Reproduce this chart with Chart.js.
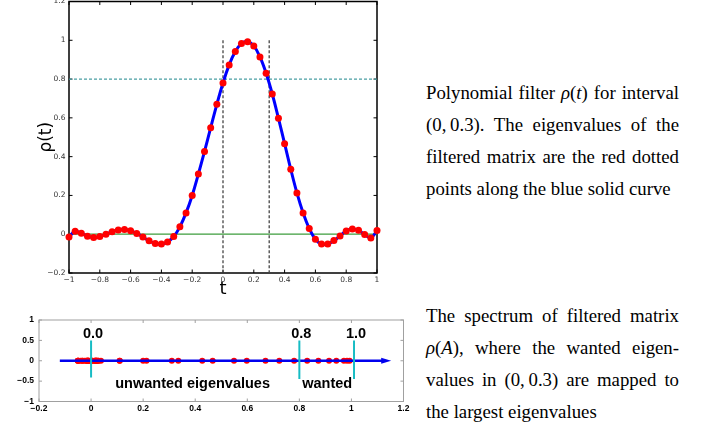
<!DOCTYPE html>
<html lang="en">
  <head>
    <meta charset="utf-8" />
    <title>Polynomial filter</title>
    <style>
      * {
        margin: 0;
        padding: 0;
      }
      body {
        width: 718px;
        height: 427px;
        background: white;
        position: relative;
        overflow: hidden;
      }
      #filterChart {
        position: absolute;
        left: 0;
        top: -10px;
      }
      #spectrumChart {
        position: absolute;
        left: 0;
        top: 300px;
      }
      .caption {
        position: absolute;
        left: 426px;
        width: 253px;
        font-family: "Liberation Serif", serif;
        font-size: 18.8px;
        line-height: 32px;
        color: #000;
      }
      .caption div {
        white-space: nowrap;
        text-align: justify;
        text-align-last: justify;
      }
      .caption div.last {
        text-align: left;
        text-align-last: left;
      }
      .m {
        font-style: italic;
      }
    </style>
  </head>
  <body>
    <canvas id="filterChart" width="400" height="310"></canvas>
    <canvas id="spectrumChart" width="420" height="127"></canvas>

    <div class="caption" style="top: 77px">
      <div>Polynomial filter <span class="m">ρ</span>(<span class="m">t</span>) for interval</div>
      <div>(0,&thinsp;0.3). The eigenvalues of the</div>
      <div>filtered matrix are the red dotted</div>
      <div class="last">points along the blue solid curve</div>
    </div>
    <div class="caption" style="top: 300px">
      <div>The spectrum of filtered matrix</div>
      <div><span class="m">ρ</span>(<span class="m">A</span>), where the wanted eigen-</div>
      <div>values in (0,&thinsp;0.3) are mapped to</div>
      <div class="last">the largest eigenvalues</div>
    </div>

    <script src="https://cdn.jsdelivr.net/npm/chart.js"></script>

    <script>
      // sample points t and filter values rho(t) (red dots on the blue curve)
      const tValues = [
        -1, -0.96, -0.92, -0.88, -0.84, -0.8, -0.76, -0.72, -0.68, -0.64,
        -0.6, -0.56, -0.52, -0.48, -0.44, -0.4, -0.36, -0.32, -0.28, -0.24,
        -0.2, -0.16, -0.12, -0.08, -0.04, 0, 0.04, 0.08, 0.12, 0.16, 0.2,
        0.24, 0.28, 0.32, 0.36, 0.4, 0.44, 0.48, 0.52, 0.56, 0.6, 0.64, 0.68,
        0.72, 0.76, 0.8, 0.84, 0.88, 0.92, 0.96, 1,
      ];
      const rhoValues = [
        -0.014, 0.015, 0.005, -0.01, -0.017, -0.012, 0, 0.013, 0.022, 0.024,
        0.018, 0.004, -0.014, -0.034, -0.048, -0.051, -0.04, -0.012, 0.038,
        0.11, 0.2, 0.31, 0.427, 0.549, 0.67, 0.78, 0.873, 0.942, 0.983, 0.993,
        0.971, 0.914, 0.83, 0.723, 0.598, 0.467, 0.335, 0.213, 0.11, 0.029,
        -0.026, -0.051, -0.05, -0.033, -0.009, 0.017, 0.027, 0.02, -0.002,
        -0.019, 0.019,
      ];
      const passband = [0, 0.3];
      const threshold = 0.8;

      const filterXTicks = [-1, -0.8, -0.6, -0.4, -0.2, 0, 0.2, 0.4, 0.6, 0.8, 1];
      const filterYTicks = [-0.2, 0, 0.2, 0.4, 0.6, 0.8, 1, 1.2];
      const spectrumXTicks = [-0.2, 0, 0.2, 0.4, 0.6, 0.8, 1, 1.2];
      const spectrumYTicks = [-1, -0.5, 0, 0.5, 1];

      // bottom panel annotations
      const arrowSpan = [-0.12, 1.145];
      const markerValues = [0, 0.8, 1.01];
      const markerLabels = ["0.0", "0.8", "1.0"];
      const markerBottoms = [-0.41, -0.45, -0.45];
      const regionLabels = ["unwanted eigenvalues", "wanted"];
      const regionCenters = [0.39, 0.907];

      const fmt = (v) => (v < 0 ? "\u2212" : "") + Math.abs(v);
      const setTicks = (list) => (s) => {
        s.ticks = list.map((v) => ({ value: v }));
      };

      // box around the plot area with inward tick marks on all four sides
      const axisBox = {
        id: "axisBox",
        beforeDatasetsDraw(chart, args, opts) {
          const {
            ctx,
            chartArea: { left, right, top, bottom },
            scales: { x, y },
          } = chart;
          ctx.save();
          ctx.strokeStyle = opts.color;
          ctx.lineWidth = opts.tickWidth;
          ctx.beginPath();
          x.ticks.forEach((t) => {
            const px = x.getPixelForValue(t.value);
            ctx.moveTo(px, bottom);
            ctx.lineTo(px, bottom - opts.tickLength);
            ctx.moveTo(px, top);
            ctx.lineTo(px, top + opts.tickLength);
          });
          y.ticks.forEach((t) => {
            const py = y.getPixelForValue(t.value);
            ctx.moveTo(left, py);
            ctx.lineTo(left + opts.tickLength, py);
            ctx.moveTo(right, py);
            ctx.lineTo(right - opts.tickLength, py);
          });
          ctx.stroke();
          ctx.lineWidth = opts.boxWidth;
          ctx.strokeRect(left, top, right - left, bottom - top);
          ctx.restore();
        },
      };

      const points = tValues.map((t, i) => ({ x: t, y: rhoValues[i] }));

      new Chart(document.getElementById("filterChart"), {
        type: "line",
        data: {
          datasets: [
            {
              data: points,
              showLine: false,
              pointRadius: 3.5,
              pointBackgroundColor: "#ff0000",
              pointBorderWidth: 0,
              clip: false,
              order: 0,
            },
            {
              data: points,
              borderColor: "#0000ff",
              borderWidth: 3,
              tension: 0.4,
              pointRadius: 0,
              order: 1,
            },
            {
              data: [
                { x: -1, y: 0 },
                { x: 1, y: 0 },
              ],
              borderColor: "#3c9d3c",
              borderWidth: 1.2,
              pointRadius: 0,
              order: 2,
            },
            {
              data: [
                { x: -1, y: threshold },
                { x: 1, y: threshold },
              ],
              borderColor: "#4a9ea3",
              borderWidth: 1.2,
              borderDash: [3, 2],
              pointRadius: 0,
              order: 3,
            },
            ...passband.map((p) => ({
              data: [
                { x: p, y: 1 },
                { x: p, y: -0.2 },
              ],
              borderColor: "#444",
              borderWidth: 1.3,
              borderDash: [3, 2],
              pointRadius: 0,
              order: 4,
            })),
          ],
        },
        options: {
          responsive: false,
          animation: false,
          devicePixelRatio: 1,
          layout: { padding: { top: 11.5, right: 23, bottom: 0, left: 0 } },
          plugins: {
            legend: { display: false },
            tooltip: { enabled: false },
            axisBox: { color: "#000", tickWidth: 1, tickLength: 3.5, boxWidth: 1.5 },
          },
          scales: {
            x: {
              type: "linear",
              min: -1,
              max: 1,
              afterBuildTicks: setTicks(filterXTicks),
              afterFit: (s) => {
                s.height = 27;
              },
              grid: { display: false, drawTicks: false },
              border: { display: false },
              ticks: {
                font: { family: "DejaVu Sans", size: 7.5 },
                color: "#333",
                padding: 3,
                maxRotation: 0,
                autoSkip: false,
                callback: fmt,
              },
              title: {
                display: true,
                text: "t",
                color: "#000",
                font: { family: "DejaVu Sans", size: 18 },
                padding: 0,
              },
            },
            y: {
              type: "linear",
              min: -0.2,
              max: 1.2,
              afterBuildTicks: setTicks(filterYTicks),
              afterFit: (s) => {
                s.width = 69;
              },
              grid: { display: false, drawTicks: false },
              border: { display: false },
              ticks: {
                font: { family: "DejaVu Sans", size: 7.5 },
                color: "#333",
                padding: 3.5,
                autoSkip: false,
                callback: fmt,
              },
              title: {
                display: true,
                text: "ρ(t)",
                color: "#000",
                font: { family: "DejaVu Sans", size: 17 },
                padding: { top: 36, bottom: 0 },
              },
            },
          },
        },
        plugins: [axisBox],
      });

      // arrow head and text labels for the spectrum panel
      const spectrumNotes = {
        id: "spectrumNotes",
        afterDatasetsDraw(chart) {
          const {
            ctx,
            scales: { x, y },
          } = chart;
          ctx.save();
          const tipX = x.getPixelForValue(arrowSpan[1]) + 2;
          const y0 = y.getPixelForValue(0);
          ctx.fillStyle = "#0000ee";
          ctx.beginPath();
          ctx.moveTo(tipX, y0);
          ctx.lineTo(tipX - 10, y0 - 3);
          ctx.lineTo(tipX - 10, y0 + 3);
          ctx.closePath();
          ctx.fill();

          ctx.fillStyle = "#000";
          ctx.textAlign = "center";
          ctx.textBaseline = "middle";
          ctx.font = "bold 14.5px 'Liberation Sans'";
          markerLabels.forEach((lab, i) => {
            ctx.fillText(lab, x.getPixelForValue(markerValues[i]) + 2, y.getPixelForValue(0.66));
          });
          regionLabels.forEach((lab, i) => {
            ctx.fillText(lab, x.getPixelForValue(regionCenters[i]), y.getPixelForValue(-0.57));
          });
          ctx.restore();
        },
      };

      new Chart(document.getElementById("spectrumChart"), {
        type: "line",
        data: {
          datasets: [
            ...markerValues.map((m, i) => ({
              data: [
                { x: m, y: 0.5 },
                { x: m, y: markerBottoms[i] },
              ],
              borderColor: "#17bcc4",
              borderWidth: 2,
              pointRadius: 0,
              order: -1,
            })),
            {
              data: [
                { x: arrowSpan[0], y: 0 },
                { x: arrowSpan[1] - 0.02, y: 0 },
              ],
              borderColor: "#0000ee",
              borderWidth: 2.5,
              pointRadius: 0,
              order: 0,
            },
            {
              data: rhoValues.map((r) => ({ x: r, y: 0 })),
              showLine: false,
              pointRadius: 3,
              pointBackgroundColor: "#ff0000",
              pointBorderWidth: 0,
              order: 1,
            },
          ],
        },
        options: {
          responsive: false,
          animation: false,
          devicePixelRatio: 1,
          layout: { padding: { top: 20, right: 16.5, bottom: 0, left: 0 } },
          plugins: {
            legend: { display: false },
            tooltip: { enabled: false },
            axisBox: { color: "#a0a0a0", tickWidth: 1, tickLength: 3, boxWidth: 1 },
          },
          scales: {
            x: {
              type: "linear",
              min: -0.2,
              max: 1.2,
              afterBuildTicks: setTicks(spectrumXTicks),
              afterFit: (s) => {
                s.height = 25.5;
              },
              grid: { display: false, drawTicks: false },
              border: { display: false },
              ticks: {
                font: { family: "Liberation Sans", size: 8.5, weight: "bold" },
                color: "#000",
                padding: 2,
                maxRotation: 0,
                autoSkip: false,
                callback: fmt,
              },
            },
            y: {
              type: "linear",
              min: -1,
              max: 1,
              afterBuildTicks: setTicks(spectrumYTicks),
              afterFit: (s) => {
                s.width = 39;
              },
              grid: { display: false, drawTicks: false },
              border: { display: false },
              ticks: {
                font: { family: "Liberation Sans", size: 8.5, weight: "bold" },
                color: "#000",
                padding: 5,
                autoSkip: false,
                callback: fmt,
              },
            },
          },
        },
        plugins: [axisBox, spectrumNotes],
      });
    </script>
  </body>
</html>
